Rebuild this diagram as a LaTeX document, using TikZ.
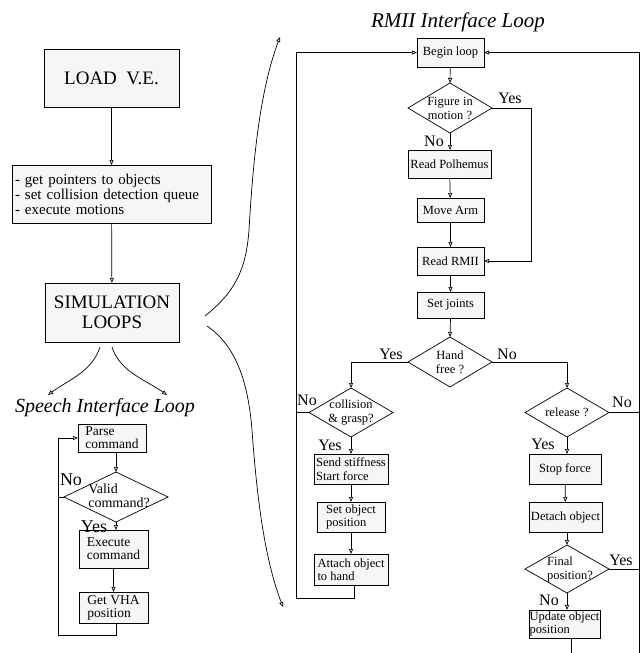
\documentclass[tikz,border=0pt]{standalone}
\usepackage{fontspec}
\setmainfont{Liberation Serif}
\usetikzlibrary{arrows.meta,shapes.geometric,calc}
\begin{document}
\begin{tikzpicture}[x=1pt,y=-1pt,
 every node/.style={inner sep=0pt,outer sep=0pt},
 box/.style={draw,fill=gray!7,line width=0.7pt,align=left},
 bigbox/.style={box,align=center,font=\fontsize{19}{20}\selectfont},
 sbox/.style={box,font=\fontsize{13.5}{13}\selectfont},
 rbox/.style={box,font=\fontsize{12.5}{13.5}\selectfont},
 dia/.style={draw,diamond,line width=0.7pt},
 dtext/.style={align=center,font=\fontsize{12.5}{14}\selectfont},
 title/.style={font=\fontsize{20}{22}\selectfont\itshape},
 slab/.style={font=\fontsize{18}{18}\selectfont},
 rlab/.style={font=\fontsize{16}{16}\selectfont},
 arr/.style={-{Triangle[open,length=5pt,width=4pt]},line width=0.7pt},
 ln/.style={line width=0.7pt}
]
\useasboundingbox (0,0) rectangle (642,653);

% ---------- left column ----------
\node[bigbox,minimum width=135pt,minimum height=58pt] (load) at (111.5,78) {LOAD\ \ V.E.};
\node[box,text width=193pt,inner xsep=3pt,minimum height=58pt,font=\fontsize{15}{15}\selectfont] (list) at (111.5,194)
  {- get pointers to objects\\- set collision detection queue\\- execute motions};
\node[bigbox,minimum width=134pt,minimum height=59pt] (sim) at (112,312.5) {SIMULATION\\LOOPS};
\draw[arr] (load) -- (list);
\draw[arr] (list) -- (sim);

\coordinate (s1) at (100,347); \coordinate (s2) at (48,395);
\coordinate (s3) at (112,347); \coordinate (s4) at (167,395);
\draw[arr] (s1) .. controls (92,372) and (68,380) .. (s2);
\draw[arr] (s3) .. controls (120,372) and (146,380) .. (s4);

\node[title] (stitle) at (105,408) {Speech Interface Loop};

\node[sbox,minimum width=68pt,minimum height=28pt] (parse) at (112,438) {Parse\\command};
\node[dia,minimum width=104pt,minimum height=50pt] (valid) at (116,497) {};
\node[align=left,font=\fontsize{14}{14}\selectfont] (validt) at (119,496) {Valid\\command?};
\node[sbox,minimum width=69pt,minimum height=38pt] (exec) at (113.5,549) {Execute\\command};
\node[sbox,minimum width=69pt,minimum height=31pt] (getvha) at (113.5,607.5) {Get VHA\\position};

\draw[arr] (valid.north |- parse.south) -- (valid.north);
\draw[arr] (valid.south) -- (valid.south |- exec.north);
\draw[arr] (exec) -- (getvha);
\coordinate (sl) at (58,635);
\draw[arr] ([xshift=3pt]getvha.south) |- (sl) |- (parse.west);
\draw[ln] (valid.west) -- (valid.west -| sl);
\node[slab] at (71,480) {No};
\node[slab] at (94,527) {Yes};

% ---------- big brace ----------
\coordinate (b0) at (205,316); \coordinate (b1) at (280,37);
\draw[arr] (b0) .. controls (235,292) and (246,270) .. (249,230) .. controls (253,160) and (260,90) .. (b1);
\coordinate (c0) at (207,326); \coordinate (c1) at (283,607);
\draw[arr] (c0) .. controls (235,345) and (248,380) .. (252,430) .. controls (257,500) and (265,560) .. (c1);

% ---------- RMII loop ----------
\node[title,font=\fontsize{21}{22}\selectfont\itshape] (rtitle) at (458,22) {RMII Interface Loop};

\node[rbox,minimum width=67pt,minimum height=29pt] (begin) at (450.5,52.5) {Begin loop};
\node[dia,minimum width=84pt,minimum height=50pt] (fig) at (450,108) {};
\node[dtext] at (fig) {Figure in\\motion ?};
\node[rbox,minimum width=83pt,minimum height=28pt] (polh) at (449.5,164) {Read Polhemus};
\node[rbox,minimum width=67pt,minimum height=24pt] (move) at (450.5,210) {Move Arm};
\node[rbox,minimum width=67pt,minimum height=28pt] (rmii) at (450.5,261) {Read RMII};
\node[rbox,minimum width=67pt,minimum height=26pt] (joints) at (450.5,305) {Set joints};
\node[dia,minimum width=84pt,minimum height=50pt] (hand) at (450,362) {};
\node[dtext] at (hand) {Hand\\free ?};

\node[dia,minimum width=84pt,minimum height=49pt] (coll) at (351,412.5) {};
\node[dtext] at (coll) {collision\\\& grasp?};
\node[rbox,minimum width=74pt,minimum height=30pt] (send) at (351,469) {Send stiffness\\Start force};
\node[rbox,minimum width=68pt,minimum height=30pt] (setobj) at (351,517) {Set object\\position};
\node[rbox,minimum width=74pt,minimum height=31pt] (attach) at (351,569.5) {Attach object\\to hand};

\node[dia,minimum width=84pt,minimum height=49pt] (release) at (567,412.5) {};
\node[dtext] at (release) {release ?};
\node[rbox,minimum width=72pt,minimum height=30pt] (stop) at (565,469) {Stop force};
\node[rbox,minimum width=73pt,minimum height=30pt] (detach) at (565.5,517) {Detach object};
\node[dia,minimum width=84pt,minimum height=48pt] (final) at (567,569) {};
\node[align=left,font=\fontsize{12.5}{14}\selectfont] at (570,569) {Final\\position?};
\node[rbox,minimum width=71pt,minimum height=28pt] (update) at (564.5,624) {Update object\\position};

% connectors
\draw[arr] (begin) -- (fig.north);
\draw[arr] (fig.south) -- (fig.south |- polh.north);
\draw[arr] (polh) -- (move);
\draw[arr] (move) -- (rmii);
\draw[arr] (rmii) -- (joints);
\draw[arr] (joints.south) -- (hand.north);
\coordinate (yr) at (531,108);
\draw[arr] (fig.east) -- (yr) |- (rmii.east);
\draw[arr] (hand.west) -| (coll.north);
\draw[arr] (hand.east) -| (release.north);
\draw[arr] (coll.south) -- (coll.south |- send.north);
\draw[arr] (send) -- (setobj);
\draw[arr] (setobj) -- (attach);
\draw[arr] (release.south) -- (release.south |- stop.north);
\draw[arr] (stop) -- (detach);
\draw[arr] (detach.south -| final.north) -- (final.north);
\draw[arr] (final.south) -- (final.south |- update.north);

\coordinate (ol) at (296,598);
\draw[arr] ([xshift=3pt]attach.south) |- (ol) |- (begin.west);
\draw[ln] (coll.west) -- (coll.west -| ol);
\coordinate (orb) at (639,653);
\draw[arr] (orb) |- (begin.east);
\draw[ln] (release.east) -- (release.east -| orb);
\draw[ln] (final.east) -- (final.east -| orb);
\draw[ln] ([xshift=7pt]update.south) -- ([xshift=7pt]update.south |- orb);

% labels
\node[rlab] at (510,98) {Yes};
\node[rlab] at (434,141) {No};
\node[rlab] at (391,354) {Yes};
\node[rlab] at (507,354) {No};
\node[rlab] at (307,400) {No};
\node[rlab] at (330,445) {Yes};
\node[rlab] at (622,402) {No};
\node[rlab] at (543,444) {Yes};
\node[rlab] at (621,560) {Yes};
\node[rlab] at (549,600) {No};
\end{tikzpicture}
\end{document}
